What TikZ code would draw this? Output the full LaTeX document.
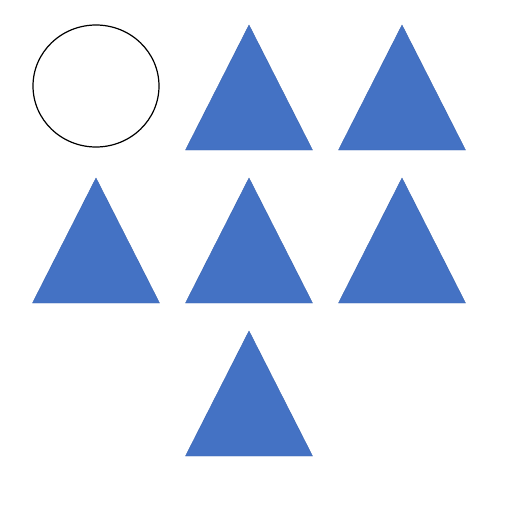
\documentclass[tikz,border=0pt]{standalone}
\definecolor{triblue}{HTML}{4472C4}
\definecolor{triedge}{HTML}{3B65B0}
\begin{document}
\begin{tikzpicture}[x=1pt,y=-1pt,
  tri/.style={fill=triblue,draw=triedge,line width=0.4pt},
  circ/.style={draw=black,line width=1.2pt}]
\useasboundingbox[fill=white] (0,0) rectangle (512,512);
\draw[circ] (96,86) ellipse [x radius=63,y radius=61];
\foreach \cx/\ty in {249/25,402/25,96/178,249/178,402/178,249/331}{
  \fill[tri] (\cx,\ty) -- ({\cx+63.5},{\ty+125}) -- ({\cx-63.5},{\ty+125}) -- cycle;
}
\end{tikzpicture}
\end{document}
